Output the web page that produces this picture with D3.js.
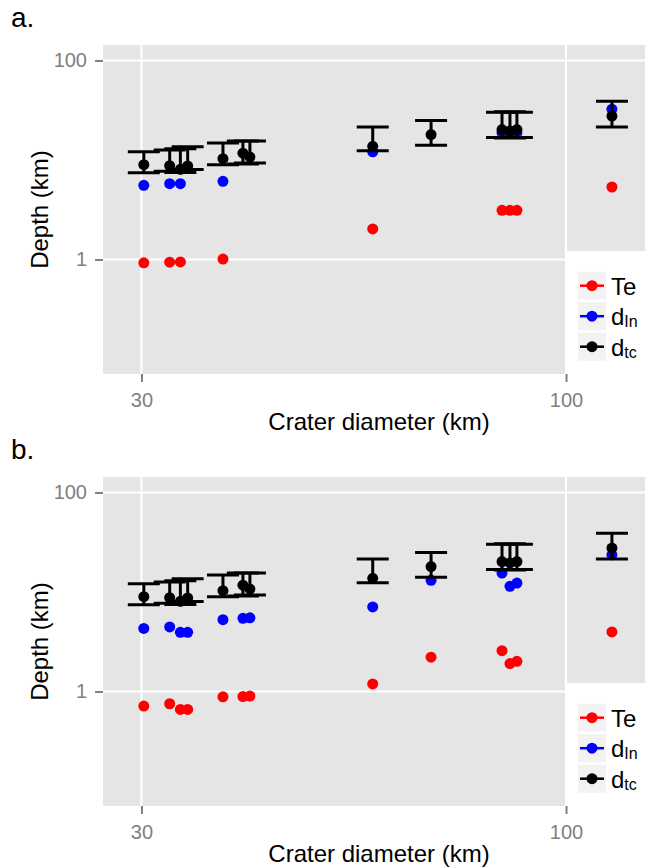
<!DOCTYPE html>
<html>
<head>
<meta charset="utf-8">
<script src="https://cdn.jsdelivr.net/npm/d3@7"></script>
<style>
  html, body { margin: 0; padding: 0; background: #ffffff; }
  svg { display: block; font-family: "Liberation Sans", Arial, Helvetica, sans-serif; }
</style>
</head>
<body>
<svg id="chart" width="646" height="868"></svg>
<script>
// ---- data ----
const diameters = [30.2, 32.5, 33.5, 34.2, 37.8, 40.0, 40.8, 57.8, 68.2, 83.4, 85.3, 87.0, 113.9];
const dtc      = [8.96, 8.75, 8.05, 8.7, 10.3, 11.7, 10.7, 13.7, 18.0, 20.2, 19.6, 20.2, 27.6];
const dtcLow   = [7.45, 7.7, 7.5, 8.0, 8.96, 9.1, 9.3, 12.4, 14.1, 16.8, 16.6, 16.8, 21.5];
const dtcHigh  = [12.1, 12.6, 13.0, 13.6, 14.8, 15.5, 15.5, 21.5, 24.9, 30.1, 30.5, 30.2, 39.0];

const teA  = [0.926, 0.94, 0.945, null, 1.01, null, null, 2.03, null, 3.12, 3.12, 3.12, 5.35];
const dinA = [5.56, 5.78, 5.78, null, 6.1, null, null, 12.1, null, 18.8, 18.5, 18.8, 32.4];

const teB  = [0.713, 0.753, 0.66, 0.66, 0.885, 0.89, 0.90, 1.19, 2.21, 2.57, 1.91, 2.01, 3.97];
const dinB = [4.3, 4.45, 3.93, 3.93, 5.27, 5.43, 5.5, 7.07, 13.1, 15.5, 11.4, 12.3, 23.6];

const xTicks = [30, 100];
const yTicks = [1, 100];
const xDomain = [26.9, 125.1];
const yDomain = [0.0707, 143];

const panelTags = ["a.", "b."];
const legendNames = [["Te", ""], ["d", "In"], ["d", "tc"]];
const seriesColors = ["#FF0000", "#0000FF", "#000000"];
const xTitle = "Crater diameter (km)";
const yTitle = "Depth (km)";

// ---- layout ----
const svg = d3.select("#chart");
const left = 103, right = 645, panelH = 329;
const panelTops = [45, 477];
const gridCol = "#FFFFFF", panelBg = "#E5E5E5", tickCol = "#7F7F7F";

function drawPanel(top, te, din, tag) {
  const g = svg.append("g");
  const x = d3.scaleLog().domain(xDomain).range([left, right]);
  const y = d3.scaleLog().domain(yDomain).range([top + panelH, top]);

  g.append("rect").attr("x", left).attr("y", top)
    .attr("width", right - left).attr("height", panelH).attr("fill", panelBg);

  // grid
  g.selectAll(".gx").data(xTicks).join("line")
    .attr("x1", d => x(d)).attr("x2", d => x(d))
    .attr("y1", top).attr("y2", top + panelH)
    .attr("stroke", gridCol).attr("stroke-width", 2);
  g.selectAll(".gy").data(yTicks).join("line")
    .attr("x1", left).attr("x2", right)
    .attr("y1", d => y(d)).attr("y2", d => y(d))
    .attr("stroke", gridCol).attr("stroke-width", 2);

  // axes
  const ax = g.append("g").attr("transform", `translate(0,${top + panelH})`)
    .call(d3.axisBottom(x).tickValues(xTicks).tickSize(8).tickPadding(11).tickFormat(d3.format("d")));
  const ay = g.append("g").attr("transform", `translate(${left},0)`)
    .call(d3.axisLeft(y).tickValues(yTicks).tickSize(8).tickPadding(8).tickFormat(d3.format("d")));
  [ax, ay].forEach(a => {
    a.select(".domain").remove();
    a.selectAll("line").attr("stroke", tickCol).attr("stroke-width", 2);
    a.selectAll("text").attr("fill", tickCol).attr("font-size", 20)
      .attr("font-family", "Liberation Sans, Arial, sans-serif");
  });

  const idx = d3.range(diameters.length);
  const r = 5.5;
  // Te
  g.selectAll(".te").data(idx.filter(i => te[i] != null)).join("circle")
    .attr("cx", i => x(diameters[i])).attr("cy", i => y(te[i])).attr("r", r)
    .attr("fill", seriesColors[0]);
  // d_In
  g.selectAll(".din").data(idx.filter(i => din[i] != null)).join("circle")
    .attr("cx", i => x(diameters[i])).attr("cy", i => y(din[i])).attr("r", r)
    .attr("fill", seriesColors[1]);
  // d_tc error bars and points
  const capHalf = 16;
  const eb = g.selectAll(".eb").data(idx).join("g");
  eb.append("line")
    .attr("x1", i => x(diameters[i])).attr("x2", i => x(diameters[i]))
    .attr("y1", i => y(dtcLow[i])).attr("y2", i => y(dtcHigh[i]))
    .attr("stroke", "#000").attr("stroke-width", 3);
  eb.append("line")
    .attr("x1", i => x(diameters[i]) - capHalf).attr("x2", i => x(diameters[i]) + capHalf)
    .attr("y1", i => y(dtcHigh[i])).attr("y2", i => y(dtcHigh[i]))
    .attr("stroke", "#000").attr("stroke-width", 3);
  eb.append("line")
    .attr("x1", i => x(diameters[i]) - capHalf).attr("x2", i => x(diameters[i]) + capHalf)
    .attr("y1", i => y(dtcLow[i])).attr("y2", i => y(dtcLow[i]))
    .attr("stroke", "#000").attr("stroke-width", 3);
  g.selectAll(".tc").data(idx).join("circle")
    .attr("cx", i => x(diameters[i])).attr("cy", i => y(dtc[i])).attr("r", r)
    .attr("fill", seriesColors[2]);

  // legend
  const lg = g.append("g");
  lg.append("rect").attr("x", 567).attr("y", top + 206)
    .attr("width", right - 567).attr("height", panelH - 206).attr("fill", "#FFFFFF");
  legendNames.forEach((nm, k) => {
    const ky = top + 226.7 + k * 30.5;
    lg.append("rect").attr("x", 578).attr("y", ky).attr("width", 28).attr("height", 28).attr("fill", "#F2F2F2");
    lg.append("line").attr("x1", 580).attr("x2", 604).attr("y1", ky + 14).attr("y2", ky + 14)
      .attr("stroke", seriesColors[k]).attr("stroke-width", 2.5);
    lg.append("circle").attr("cx", 592).attr("cy", ky + 14).attr("r", 5.5).attr("fill", seriesColors[k]);
    const t = lg.append("text").attr("x", 611).attr("y", ky + 23).attr("font-size", 24).attr("fill", "#000");
    t.append("tspan").text(nm[0]);
    if (nm[1]) t.append("tspan").attr("font-size", 16).attr("dy", 2).text(nm[1]);
  });

  // titles
  g.append("text").attr("x", (left + right) / 2 + 5).attr("y", top + panelH + 56)
    .attr("text-anchor", "middle").attr("font-size", 24).attr("fill", "#000").text(xTitle);
  g.append("text").attr("transform", `translate(48,${top + panelH / 2}) rotate(-90)`)
    .attr("text-anchor", "middle").attr("font-size", 24).attr("fill", "#000").text(yTitle);
  g.append("text").attr("x", 11).attr("y", top - 18).attr("font-size", 28).attr("fill", "#000").text(tag);
}

drawPanel(panelTops[0], teA, dinA, panelTags[0]);
drawPanel(panelTops[1], teB, dinB, panelTags[1]);
</script>
</body>
</html>
